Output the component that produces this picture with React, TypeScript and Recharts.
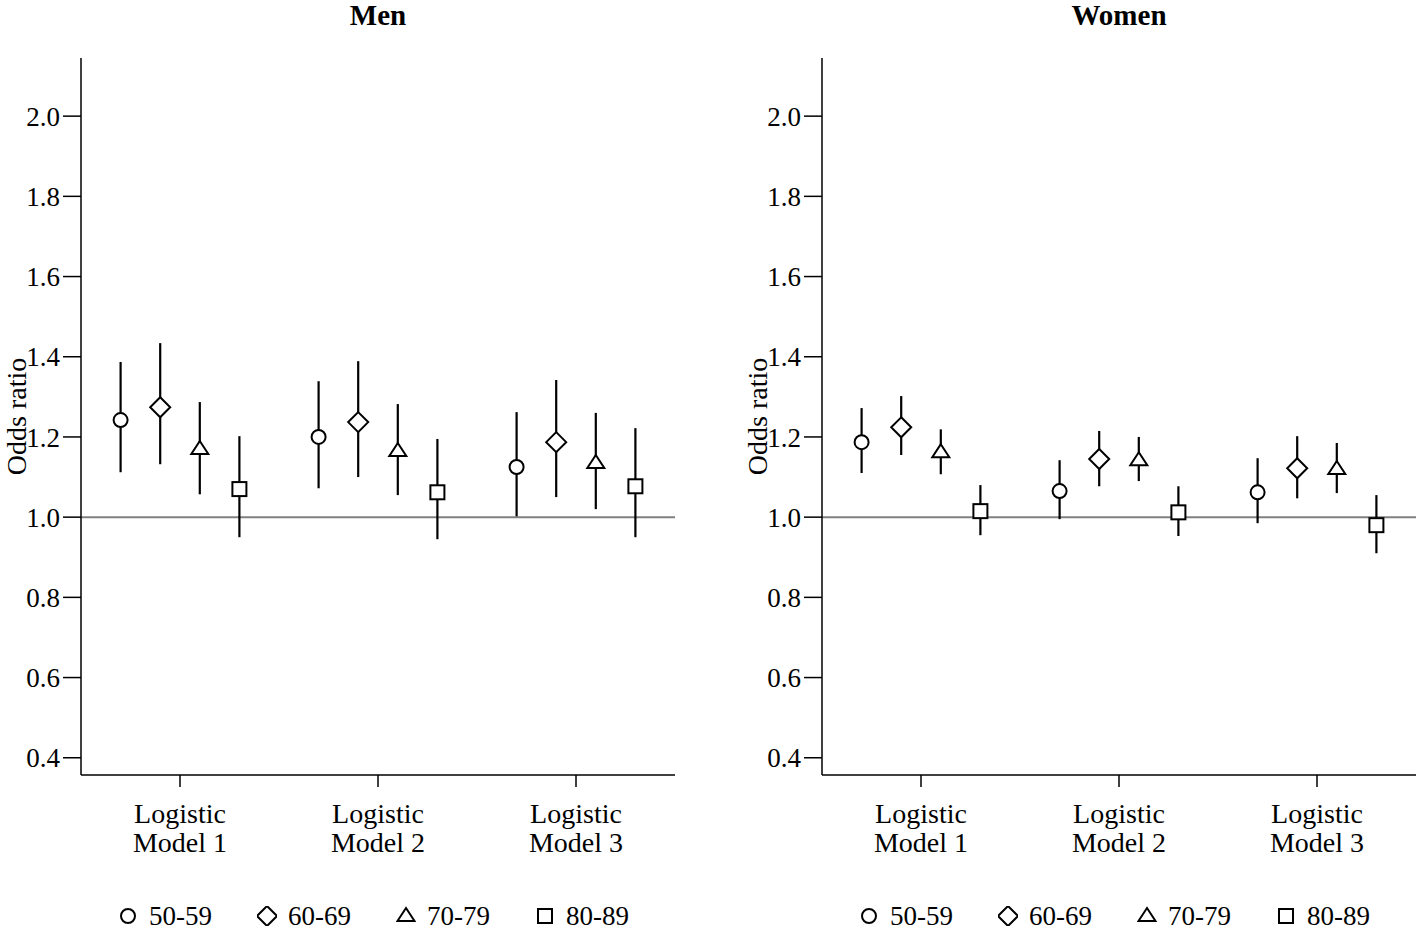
import {
  ErrorBar,
  Legend,
  ReferenceLine,
  Scatter,
  ScatterChart,
  XAxis,
  YAxis,
} from "recharts";

const models = ["Logistic Model 1", "Logistic Model 2", "Logistic Model 3"];
const ageGroups = ["50-59", "60-69", "70-79", "80-89"];
const shapes = ["circle", "diamond", "triangle", "square"];
const offsets = [-0.3, -0.1, 0.1, 0.3];
const yTicks = [0.4, 0.6, 0.8, 1.0, 1.2, 1.4, 1.6, 1.8, 2.0];

// rows = age groups, columns = models
const menOdds = [
  [1.242, 1.2, 1.125],
  [1.274, 1.237, 1.187],
  [1.17, 1.165, 1.135],
  [1.07, 1.062, 1.077],
];
const menLow = [
  [1.112, 1.072, 1.002],
  [1.132, 1.1, 1.05],
  [1.057, 1.055, 1.02],
  [0.95, 0.945, 0.95],
];
const menHigh = [
  [1.387, 1.339, 1.262],
  [1.434, 1.389, 1.342],
  [1.287, 1.282, 1.26],
  [1.202, 1.195, 1.222],
];

const womenOdds = [
  [1.187, 1.065, 1.062],
  [1.224, 1.145, 1.122],
  [1.162, 1.142, 1.12],
  [1.015, 1.012, 0.98],
];
const womenLow = [
  [1.11, 0.995, 0.985],
  [1.155, 1.077, 1.047],
  [1.107, 1.09, 1.06],
  [0.955, 0.953, 0.91],
];
const womenHigh = [
  [1.272, 1.142, 1.147],
  [1.302, 1.215, 1.202],
  [1.219, 1.2, 1.185],
  [1.08, 1.077, 1.055],
];

const FONT = '"Liberation Serif", "Times New Roman", serif';

function buildSeries(odds: number[][], low: number[][], high: number[][]) {
  return ageGroups.map((_, g) =>
    models.map((_, m) => ({
      x: m + 1 + offsets[g],
      y: odds[g][m],
      err: [odds[g][m] - low[g][m], high[g][m] - odds[g][m]],
    }))
  );
}

function Marker({ cx, cy, type }: { cx: number; cy: number; type: string }) {
  const common = { fill: "#fff", stroke: "#000", strokeWidth: 2 };
  if (type === "circle") return <circle cx={cx} cy={cy} r={7} {...common} />;
  if (type === "diamond")
    return (
      <polygon
        points={`${cx},${cy - 10} ${cx + 10},${cy} ${cx},${cy + 10} ${cx - 10},${cy}`}
        {...common}
      />
    );
  if (type === "triangle")
    return (
      <polygon
        points={`${cx},${cy - 8} ${cx + 8.5},${cy + 5} ${cx - 8.5},${cy + 5}`}
        {...common}
      />
    );
  return <rect x={cx - 7} y={cy - 7} width={14} height={14} {...common} />;
}

const ModelTick = ({ x, y, payload }: any) => {
  const name = models[Math.round(payload.value) - 1] || "";
  const i = name.indexOf(" ");
  return (
    <text x={x} y={y} textAnchor="middle" fontSize={28} fontFamily={FONT} fill="#000">
      <tspan x={x} dy={34}>{name.slice(0, i)}</tspan>
      <tspan x={x} dy={29}>{name.slice(i + 1)}</tspan>
    </text>
  );
};

const YLabel = ({ viewBox }: any) => {
  const cy = viewBox.y + viewBox.height / 2;
  const cx = viewBox.x + 16;
  return (
    <text
      x={cx}
      y={cy}
      textAnchor="middle"
      dominantBaseline="central"
      fontSize={28}
      fontFamily={FONT}
      fill="#000"
      transform={`rotate(-90 ${cx} ${cy})`}
    >
      Odds ratio
    </text>
  );
};

const AgeLegend = () => (
  <div
    style={{
      display: "flex",
      paddingTop: 12,
      paddingLeft: 37,
      fontFamily: FONT,
      fontSize: 27,
      color: "#000",
      height: 28,
      alignItems: "center",
    }}
  >
    {ageGroups.map((g, i) => (
      <div key={g} style={{ display: "flex", alignItems: "center", width: 139 }}>
        <svg width={20} height={20}>
          <Marker cx={10} cy={10} type={shapes[i]} />
        </svg>
        <span style={{ marginLeft: 11 }}>{g}</span>
      </div>
    ))}
  </div>
);

function Panel({
  title,
  left,
  marginLeft,
  marginRight,
  series,
}: {
  title: string;
  left: number;
  marginLeft: number;
  marginRight: number;
  series: { x: number; y: number; err: number[] }[][];
}) {
  const plotLeft = marginLeft + 81;
  const plotWidth = 709 - plotLeft - marginRight;
  return (
    <div style={{ position: "absolute", left, top: 0, width: 709, height: 930 }}>
      <div
        style={{
          position: "absolute",
          left: plotLeft,
          width: plotWidth,
          top: 0,
          textAlign: "center",
          fontFamily: FONT,
          fontWeight: "bold",
          fontSize: 29,
          lineHeight: "30px",
        }}
      >
        {title}
      </div>
      <ScatterChart
        width={709}
        height={930}
        margin={{ top: 58, right: marginRight, bottom: 0, left: marginLeft }}
      >
        <XAxis
          type="number"
          dataKey="x"
          domain={[0.5, 3.5]}
          ticks={[1, 2, 3]}
          height={115}
          tickSize={12}
          tick={<ModelTick />}
          axisLine={{ stroke: "#000", strokeWidth: 1.5 }}
          tickLine={{ stroke: "#000", strokeWidth: 1.5 }}
          allowDataOverflow
        />
        <YAxis
          type="number"
          dataKey="y"
          domain={[0.357, 2.145]}
          ticks={yTicks}
          width={81}
          tickSize={18}
          tickMargin={3}
          tickFormatter={(v: number) => v.toFixed(1)}
          tick={{ fontSize: 27, fontFamily: FONT, fill: "#000" }}
          axisLine={{ stroke: "#000", strokeWidth: 1.5 }}
          tickLine={{ stroke: "#000", strokeWidth: 1.5 }}
          allowDataOverflow
          label={<YLabel />}
        />
        <ReferenceLine y={1} stroke="#808080" strokeWidth={2} />
        {series.map((data, i) => (
          <Scatter
            key={ageGroups[i]}
            name={ageGroups[i]}
            data={data}
            isAnimationActive={false}
            shape={(p: any) => <Marker cx={p.cx} cy={p.cy} type={shapes[i]} />}
          >
            <ErrorBar
              dataKey="err"
              direction="y"
              width={0}
              stroke="#000"
              strokeWidth={2.2}
              isAnimationActive={false}
            />
          </Scatter>
        ))}
        <Legend
          verticalAlign="bottom"
          height={40}
          content={<AgeLegend />}
          wrapperStyle={{ left: plotLeft, width: plotWidth, height: 40, bottom: 0 }}
        />
      </ScatterChart>
    </div>
  );
}

export default function App() {
  const men = buildSeries(menOdds, menLow, menHigh);
  const women = buildSeries(womenOdds, womenLow, womenHigh);
  return (
    <div
      style={{
        position: "absolute",
        left: 0,
        top: 0,
        width: 1418,
        height: 930,
        background: "#fff",
      }}
    >
      <Panel title="Men" left={0} marginLeft={0} marginRight={34} series={men} />
      <Panel title="Women" left={709} marginLeft={32} marginRight={2} series={women} />
    </div>
  );
}
